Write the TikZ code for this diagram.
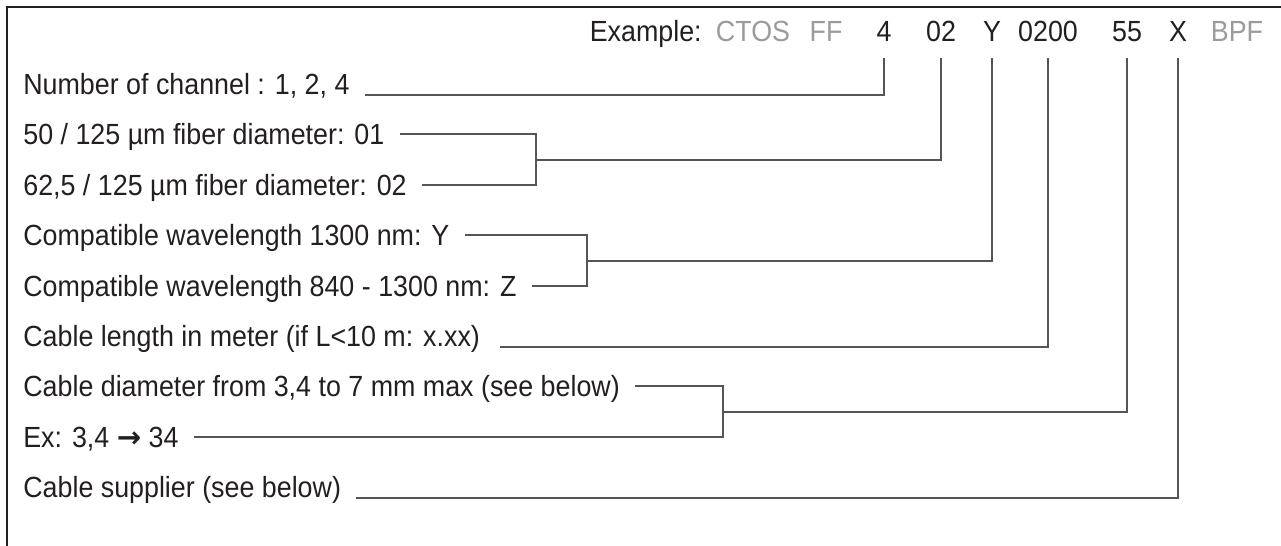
\documentclass[tikz,border=0pt]{standalone}
\usepackage{fontspec}
\setmainfont{Liberation Sans}[FakeStretch=0.92]
\newfontfamily\arrowfont{DejaVu Sans}
\usepackage{xcolor}
\definecolor{pntext}{RGB}{35,31,32}
\definecolor{pngrey}{RGB}{155,155,155}
\definecolor{pnline}{RGB}{85,85,85}
\tikzset{
  pnlbl/.style={anchor=base west, inner sep=0pt, text=pntext,
    font=\fontsize{16.6}{19}\selectfont},
  pncode/.style={anchor=base, inner sep=0pt, text=pntext,
    font=\fontsize{16.6}{19}\selectfont},
  pnfix/.style={pncode, text=pngrey},
  pnwire/.style={draw=pnline, line width=0.8pt}
}

\begin{document}
\begin{tikzpicture}[x=0.02cm, y=-0.02cm]
\useasboundingbox (0,0) rectangle (1281,546);
\draw[pnwire, draw=pntext] (7,546) |- (1281,7);
\node[pncode, anchor=base east] (ex) at (702,42) {Example:};
\node[pnfix] (ctos) at (753,42) {CTOS};
\node[pnfix] (ff) at (826,42) {FF};
\node[pncode] (c4) at (884,42) {4};
\node[pncode] (c02) at (941,42) {02};
\node[pncode] (cy) at (992,42) {Y};
\node[pncode] (clen) at (1048,42) {0200};
\node[pncode] (cdia) at (1127,42) {55};
\node[pncode] (cx) at (1178,42) {X};
\node[pnfix] (bpf) at (1237,42) {BPF};

\node[pnlbl] (nch) at (23,95) {Number of channel : 1, 2, 4};
\node[pnlbl] (f50) at (23,145) {50 / 125 µm fiber diameter: 01};
\node[pnlbl] (f62) at (23,196) {62,5 / 125 µm fiber diameter: 02};
\node[pnlbl] (w13) at (23,246) {Compatible wavelength 1300 nm: Y};
\node[pnlbl] (w84) at (23,297) {Compatible wavelength 840 - 1300 nm: Z};
\node[pnlbl] (len) at (23,347) {Cable length in meter (if L<10 m: x.xx)};
\node[pnlbl] (dia) at (23,397) {Cable diameter from 3,4 to 7 mm max (see below)};
\node[pnlbl] (dex) at (23,448) {Ex: 3,4 {\arrowfont\bfseries →} 34};
\node[pnlbl] (sup) at (23,498) {Cable supplier (see below)};

\coordinate (fj) at (536,160);
\coordinate (wj) at (587,261);
\coordinate (dj) at (723,412);

\draw[pnwire] ([xshift=3mm]nch.base east) -| ([yshift=-3.2mm]c4.base);
\draw[pnwire] ([xshift=3mm,yshift=2.2mm]f50.base east) -| (fj);
\draw[pnwire] ([xshift=3mm,yshift=2.2mm]f62.base east) -| (fj);
\draw[pnwire] (fj) -| ([yshift=-3.2mm]c02.base);
\draw[pnwire] ([xshift=3mm,yshift=2.2mm]w13.base east) -| (wj);
\draw[pnwire] ([xshift=3mm,yshift=2.2mm]w84.base east) -| (wj);
\draw[pnwire] (wj) -| ([yshift=-3.2mm]cy.base);
\draw[pnwire] ([xshift=4mm]len.base east) -| ([yshift=-3.2mm]clen.base);
\draw[pnwire] ([xshift=3mm,yshift=2.2mm]dia.base east) -| (dj);
\draw[pnwire] ([xshift=3mm,yshift=2.2mm]dex.base east) -| (dj);
\draw[pnwire] (dj) -| ([yshift=-3.2mm]cdia.base);
\draw[pnwire] ([xshift=3mm]sup.base east) -| ([yshift=-3.2mm]cx.base);
\end{tikzpicture}
\end{document}
